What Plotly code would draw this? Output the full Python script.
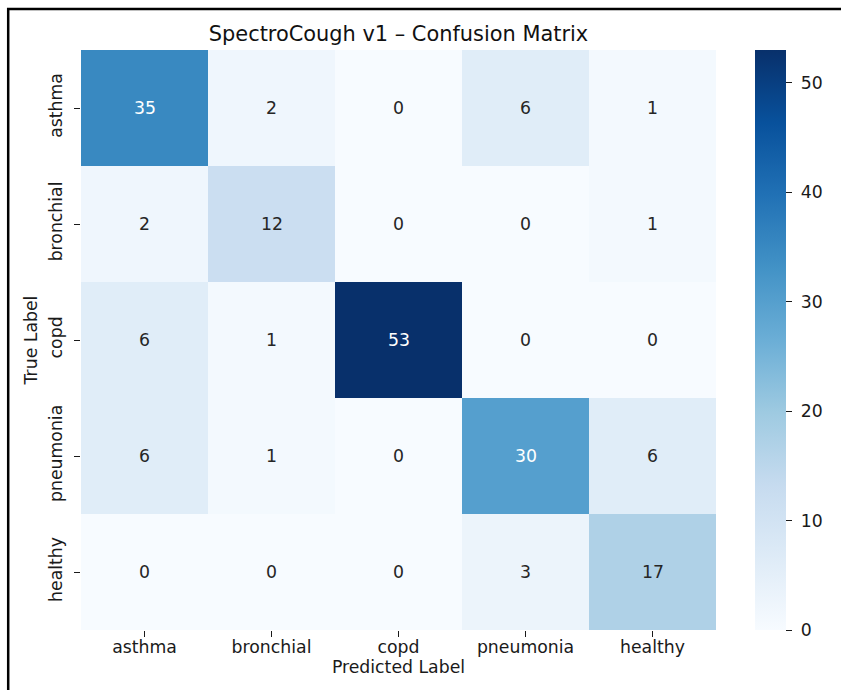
import plotly.graph_objects as go

labels = ["asthma", "bronchial", "copd", "pneumonia", "healthy"]
matrix = [
    [35, 2, 0, 6, 1],
    [2, 12, 0, 0, 1],
    [6, 1, 53, 0, 0],
    [6, 1, 0, 30, 6],
    [0, 0, 0, 3, 17],
]
cbar_ticks = [0, 10, 20, 30, 40, 50]

blues = ["#f7fbff", "#deebf7", "#c6dbef", "#9ecae1", "#6baed6",
         "#4292c6", "#2171b5", "#08519c", "#08306b"]
colorscale = [[i / (len(blues) - 1), c] for i, c in enumerate(blues)]

zmax = max(max(r) for r in matrix)
FONT = "DejaVu Sans"
FS = 17.3
TXT = "#1a1a1a"

W, H = 841, 690
L, R, T, B = 81, 716, 50, 630
pw, ph = R - L, B - T

fig = go.Figure(go.Heatmap(
    z=matrix, x=labels, y=labels,
    colorscale=colorscale, zmin=0, zmax=zmax,
    xgap=0, ygap=0, hoverinfo="skip",
    colorbar=dict(
        thickness=31, thicknessmode="pixels",
        len=1, lenmode="fraction", y=0.5, yanchor="middle", ypad=0,
        x=(755 - L) / pw, xanchor="left", xpad=0,
        outlinewidth=0, ticks="outside", ticklen=6, tickwidth=1.3,
        tickcolor=TXT, tickvals=cbar_ticks,
        ticktext=["\u2004" + str(t) for t in cbar_ticks],
        tickfont=dict(family=FONT, size=FS, color=TXT),
    ),
))

annotations = []
for i, row in enumerate(matrix):
    for j, v in enumerate(row):
        annotations.append(dict(
            x=labels[j], y=labels[i], text=str(v), showarrow=False,
            font=dict(family=FONT, size=FS,
                      color="white" if v / zmax > 0.45 else "#262626"),
        ))

fig.update_layout(
    width=W, height=H,
    margin=dict(l=L, r=W - R, t=T, b=H - B, pad=0),
    paper_bgcolor="white", plot_bgcolor="white",
    title=dict(text="SpectroCough v1 – Confusion Matrix",
               x=(L + R) / 2 / W, xanchor="center",
               y=1 - 34 / H, yanchor="middle", yref="container",
               font=dict(family=FONT, size=20.9, color="#111")),
    annotations=annotations,
    xaxis=dict(showgrid=False, zeroline=False, ticks="outside", ticklen=6,
               tickwidth=1.3, tickcolor=TXT, ticklabelstandoff=-5,
               tickfont=dict(family=FONT, size=FS, color=TXT),
               title=dict(text="Predicted Label", standoff=4,
                          font=dict(family=FONT, size=FS, color=TXT))),
    yaxis=dict(showgrid=False, zeroline=False, autorange="reversed",
               ticks="outside", ticklen=6, tickwidth=1.3, tickcolor=TXT,
               tickangle=-90, ticklabelstandoff=5,
               tickfont=dict(family=FONT, size=FS, color=TXT),
               title=dict(text="True Label", standoff=4,
                          font=dict(family=FONT, size=FS, color=TXT))),
    shapes=[dict(type="rect", xref="paper", yref="paper",
                 x0=(8.2 - L) / pw, x1=2, y0=-1, y1=(B - 9) / ph,
                 line=dict(color="black", width=2.5), fillcolor="rgba(0,0,0,0)",
                 layer="above")],
)

fig.write_html("out.html", config={"displayModeBar": False},
               post_script="document.body.style.margin='0';document.body.style.overflow='hidden';")
